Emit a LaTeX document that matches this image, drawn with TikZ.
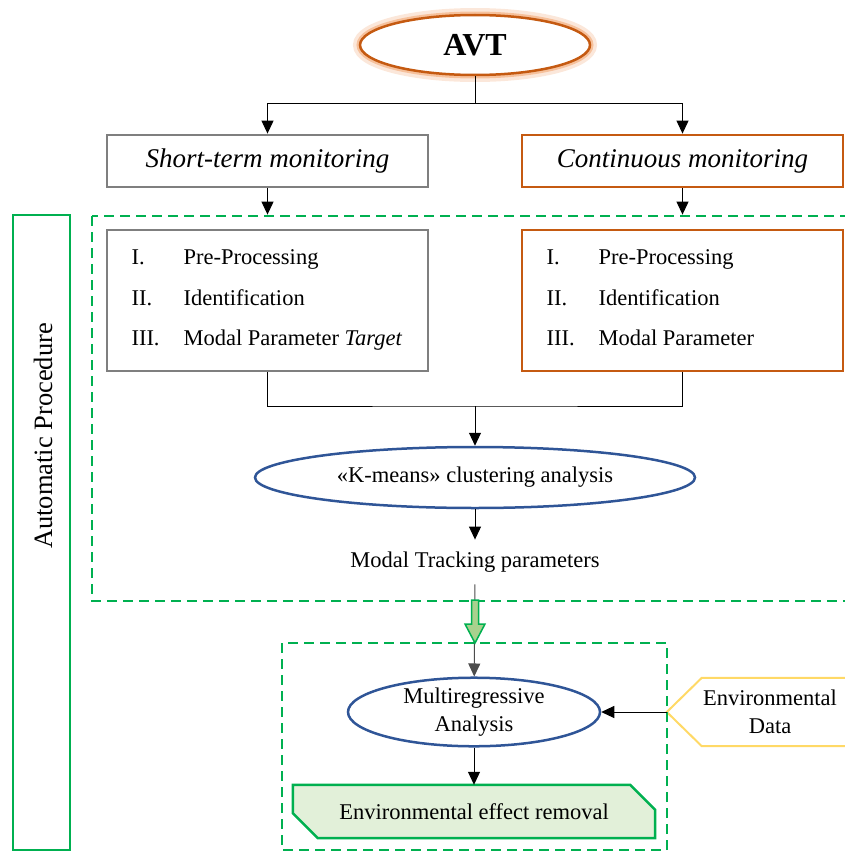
\documentclass[tikz,border=0pt]{standalone}
\usepackage{fontspec}
\setmainfont{Liberation Serif}
\usetikzlibrary{arrows.meta,shapes.geometric,backgrounds}
\definecolor{boxgray}{HTML}{7F7F7F}
\definecolor{avtorange}{HTML}{C55A11}
\definecolor{avtglow}{HTML}{F4B183}
\definecolor{ellblue}{HTML}{2F5597}
\definecolor{procgreen}{HTML}{00B050}
\definecolor{envyellow}{HTML}{FFD966}
\definecolor{removalfill}{HTML}{E2F0D9}
\definecolor{hollowfill}{HTML}{A9D18E}

\begin{document}
\begin{tikzpicture}[x=1bp,y=-1bp,
  font=\fontsize{22.5bp}{28bp}\selectfont,
  arr/.style={-{Triangle[width=12bp,length=13bp]},line width=1bp},
  graybox/.style={draw=boxgray,line width=2.8bp,minimum width=321bp},
  brownbox/.style={draw=avtorange,line width=2.8bp,minimum width=321bp},
  blueell/.style={ellipse,draw=ellblue,line width=2.5bp,inner sep=0pt,align=center},
  dashbox/.style={draw=procgreen,line width=2.5bp,dash pattern=on 10bp off 6bp}]
  \useasboundingbox (0,0) rectangle (845,852);
  \clip (0,0) rectangle (845,852);
  % AVT with glow
  \draw[avtglow!60,line width=14bp,opacity=0.5] (475,45) ellipse (115 and 30);
  \draw[avtglow,line width=7bp,opacity=0.7] (475,45) ellipse (115 and 30);
  \node[ellipse,draw=avtorange,line width=2.5bp,fill=white,minimum width=230bp,minimum height=60bp,inner sep=0pt,
    font=\fontsize{32bp}{36bp}\selectfont\bfseries] (avt) at (475,45) {AVT};
  % Monitoring types
  \node[graybox,minimum height=52bp,font=\fontsize{27bp}{30bp}\selectfont\itshape] (stbox) at (267.5,161) {Short-term monitoring};
  \node[brownbox,minimum height=52bp,font=\fontsize{27bp}{30bp}\selectfont\itshape] (cmbox) at (682.5,161) {Continuous monitoring};
  % Automatic procedure regions
  \draw[dashbox] (92,216) rectangle (870,601);
  \draw[dashbox] (282,643) rectangle (667,850);
  \node[draw=procgreen,line width=2.5bp,minimum width=57bp,minimum height=635bp] (auto) at (41.5,532.5) {};
  \node[rotate=90,font=\fontsize{26.5bp}{30bp}\selectfont] (autolabel) at (43,436) {Automatic Procedure};
  % Processing steps
  \node[graybox,minimum height=141bp] (ststeps) at (267.5,300.5) {};
  \node[brownbox,minimum height=141bp] (cmsteps) at (682.5,300.5) {};
  \foreach \num/\txt [count=\i from 0] in {I./Pre-Processing,II./Identification,III./Modal Parameter \textit{Target}} {
    \node[anchor=base west] (stnum\i) at (128,264.5+40.5*\i) {\num};
    \node[anchor=base west] (sttxt\i) at (180,264.5+40.5*\i) {\txt};
  }
  \foreach \num/\txt [count=\i from 0] in {I./Pre-Processing,II./Identification,III./Modal Parameter} {
    \node[anchor=base west] (cmnum\i) at (543,264.5+40.5*\i) {\num};
    \node[anchor=base west] (cmtxt\i) at (595,264.5+40.5*\i) {\txt};
  }
  % Clustering and tracking
  \node[blueell,minimum width=440bp,minimum height=61bp] (kmeans) at (475,477.5) {«K-means» clustering analysis};
  \node[inner ysep=12bp] (track) at (475,562) {Modal Tracking parameters};
  % Environmental part
  \node[blueell,minimum width=252bp,minimum height=60bp] (multi) at (474,712) {Multiregressive\\Analysis};
  \node[minimum width=206bp,minimum height=68bp,inner sep=0pt,align=center] (envdata) at (770,712) {Environmental\\Data};
  \node[minimum width=362bp,minimum height=53bp,inner sep=0pt] (removal) at (474,811.5) {Environmental effect removal};
  \begin{scope}[on background layer]
    \draw[draw=procgreen,fill=removalfill,line width=2.5bp]
      (removal.north west) -- ([xshift=-25bp]removal.north east) -- ([yshift=-25bp]removal.north east)
      -- (removal.south east) -- ([xshift=25bp]removal.south west) -- ([yshift=25bp]removal.south west) -- cycle;
    \draw[draw=envyellow,line width=2bp]
      ([xshift=20bp]envdata.north east) -- ([xshift=35bp]envdata.north west) -- (envdata.west)
      -- ([xshift=35bp]envdata.south west) -- ([xshift=20bp]envdata.south east);
  \end{scope}
  % Connectors
  \coordinate (fork) at (475,103);
  \coordinate (merge) at (475,406);
  \draw[line width=1bp] (avt) -- (fork);
  \draw[arr] (fork) -| (stbox);
  \draw[arr] (fork) -| (cmbox);
  \draw[arr,shorten >=14bp] (stbox) -- (ststeps);
  \draw[arr,shorten >=14bp] (cmbox) -- (cmsteps);
  \draw[line width=1bp] (ststeps) |- (merge) -| (cmsteps);
  \draw[arr] (merge) -- (kmeans);
  \draw[arr] (kmeans) -- (track);
  \draw[arr,black!70] (track) -- (multi);
  \draw[arr] (envdata) -- (multi);
  \draw[arr] (multi) -- (removal);
  % Hollow arrow into the regression block
  \draw[procgreen,fill=hollowfill,line width=1.5bp] (471.5,600) -- (478.5,600) -- (478.5,624) -- (485,624)
    -- (475,643) -- (465,624) -- (471.5,624) -- cycle;
\end{tikzpicture}
\end{document}
